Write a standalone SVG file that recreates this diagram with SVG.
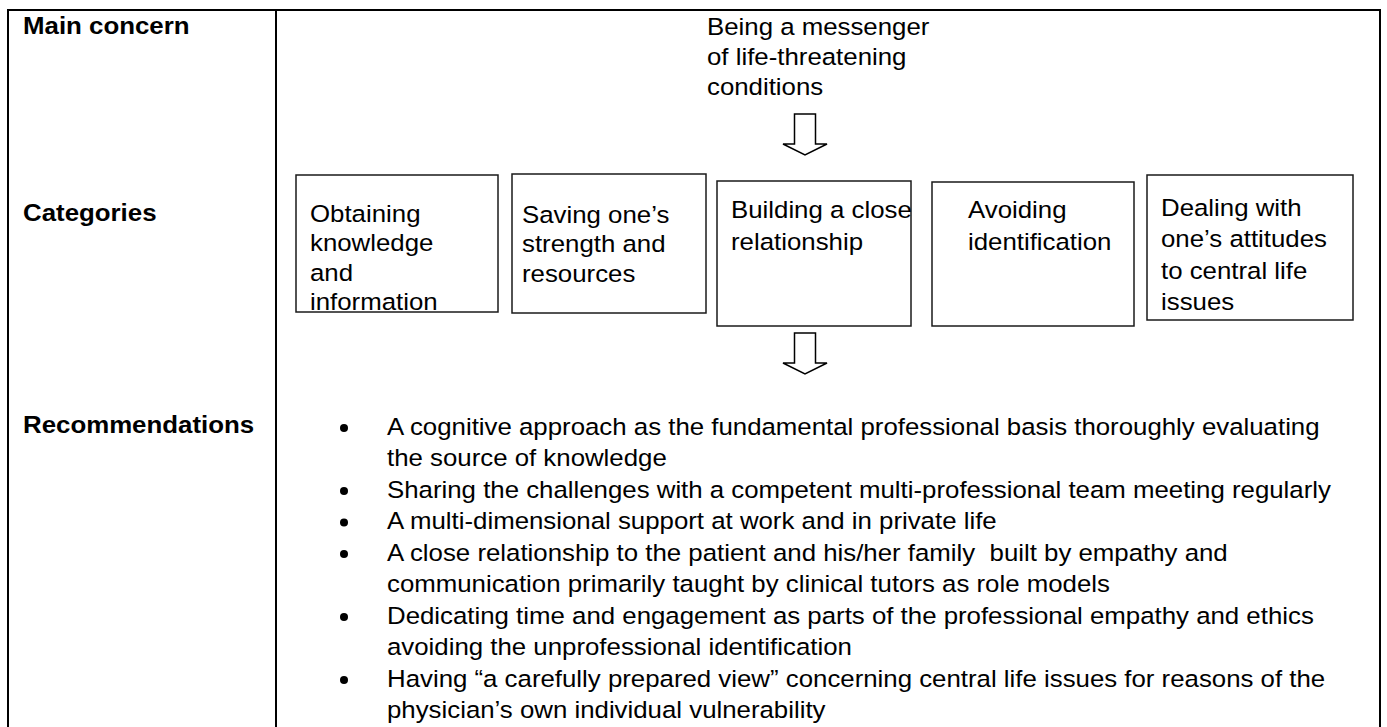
<svg xmlns="http://www.w3.org/2000/svg" width="1387" height="727" viewBox="0 0 1387 727">
  <style>
    .frame { stroke: #000; stroke-width: 2; fill: none; }
    .box { fill: #fff; stroke: #1a1a1a; stroke-width: 1.5; }
    .txt { font-family: "Liberation Sans", Arial, Helvetica, sans-serif; font-size: 23.7px; fill: #000; }
    .lbl { font-family: "Liberation Sans", Arial, Helvetica, sans-serif; font-size: 23.5px; font-weight: bold; fill: #000; }
    .arrow { fill: #fff; stroke: #000; stroke-width: 1.5; stroke-linejoin: miter; }
    .dot { fill: #000; }
  </style>
  <defs>
    <!-- hollow block arrow pointing down, origin at top centre of shaft -->
    <path id="downArrow" d="M-10.5,0 V30 H-22 L0,41 L22,30 H10.5 V0 Z"/>
  </defs>

  <rect width="1387" height="727" fill="#fff"/>

  <!-- table frame: top, left, right rules and the column divider -->
  <g id="table-frame">
    <line class="frame" x1="7" y1="10" x2="1381" y2="10"/>
    <line class="frame" x1="8" y1="9" x2="8" y2="727"/>
    <line class="frame" x1="276" y1="9" x2="276" y2="727"/>
    <line class="frame" x1="1380" y1="9" x2="1380" y2="727"/>
  </g>

  <!-- row headings -->
  <g id="row-labels">
    <text class="lbl" transform="translate(23,34) scale(1.1 1)">Main concern</text>
    <text class="lbl" transform="translate(23,221) scale(1.1 1)">Categories</text>
    <text class="lbl" transform="translate(23,433) scale(1.1 1)">Recommendations</text>
  </g>

  <!-- main concern -->
  <g id="main-concern">
    <text class="txt" transform="translate(707,35) scale(1.09 1)">
      <tspan x="0" y="0">Being a messenger</tspan>
      <tspan x="0" y="30">of life-threatening</tspan>
      <tspan x="0" y="60">conditions</tspan>
    </text>
  </g>

  <!-- categories -->
  <g id="cat-knowledge">
    <rect class="box" x="296" y="175" width="202" height="137"/>
    <text class="txt" transform="translate(310,222) scale(1.09 1)">
      <tspan x="0" y="0">Obtaining</tspan>
      <tspan x="0" y="29.5">knowledge</tspan>
      <tspan x="0" y="59">and</tspan>
      <tspan x="0" y="88.5">information</tspan>
    </text>
  </g>

  <g id="cat-strength">
    <rect class="box" x="512" y="174" width="194" height="139"/>
    <text class="txt" transform="translate(522,223) scale(1.09 1)">
      <tspan x="0" y="0">Saving one’s</tspan>
      <tspan x="0" y="29.5">strength and</tspan>
      <tspan x="0" y="59">resources</tspan>
    </text>
  </g>

  <g id="cat-relationship">
    <rect class="box" x="717" y="181" width="194" height="145"/>
    <text class="txt" transform="translate(731,218) scale(1.09 1)">
      <tspan x="0" y="0">Building a close</tspan>
      <tspan x="0" y="32">relationship</tspan>
    </text>
  </g>

  <g id="cat-identification">
    <rect class="box" x="932" y="182" width="202" height="144"/>
    <text class="txt" transform="translate(968,218) scale(1.09 1)">
      <tspan x="0" y="0">Avoiding</tspan>
      <tspan x="0" y="32">identification</tspan>
    </text>
  </g>

  <g id="cat-attitudes">
    <rect class="box" x="1147" y="175" width="206" height="145"/>
    <text class="txt" transform="translate(1161,216) scale(1.09 1)">
      <tspan x="0" y="0">Dealing with</tspan>
      <tspan x="0" y="31.5">one’s attitudes</tspan>
      <tspan x="0" y="63">to central life</tspan>
      <tspan x="0" y="94.5">issues</tspan>
    </text>
  </g>

  <!-- recommendations list -->
  <g id="recommendations">
    <circle class="dot" cx="344" cy="428" r="4"/>
    <circle class="dot" cx="344" cy="491" r="4"/>
    <circle class="dot" cx="344" cy="522.5" r="4"/>
    <circle class="dot" cx="344" cy="554" r="4"/>
    <circle class="dot" cx="344" cy="617" r="4"/>
    <circle class="dot" cx="344" cy="680" r="4"/>
    <text class="txt" xml:space="preserve" transform="translate(387,435) scale(1.09 1)"><tspan x="0" y="0">A cognitive approach as the fundamental professional basis thoroughly evaluating</tspan><tspan x="0" y="31.5">the source of knowledge</tspan><tspan x="0" y="63">Sharing the challenges with a competent multi-professional team meeting regularly</tspan><tspan x="0" y="94.5">A multi-dimensional support at work and in private life</tspan><tspan x="0" y="126">A close relationship to the patient and his/her family  built by empathy and</tspan><tspan x="0" y="157.5">communication primarily taught by clinical tutors as role models</tspan><tspan x="0" y="189">Dedicating time and engagement as parts of the professional empathy and ethics</tspan><tspan x="0" y="220.5">avoiding the unprofessional identification</tspan><tspan x="0" y="252">Having “a carefully prepared view” concerning central life issues for reasons of the</tspan><tspan x="0" y="283.5">physician’s own individual vulnerability</tspan></text>
  </g>

  <!-- flow arrows between rows -->
  <g id="connectors">
    <use href="#downArrow" class="arrow" transform="translate(805,114)"/>
    <use href="#downArrow" class="arrow" transform="translate(805,333)"/>
  </g>
</svg>
